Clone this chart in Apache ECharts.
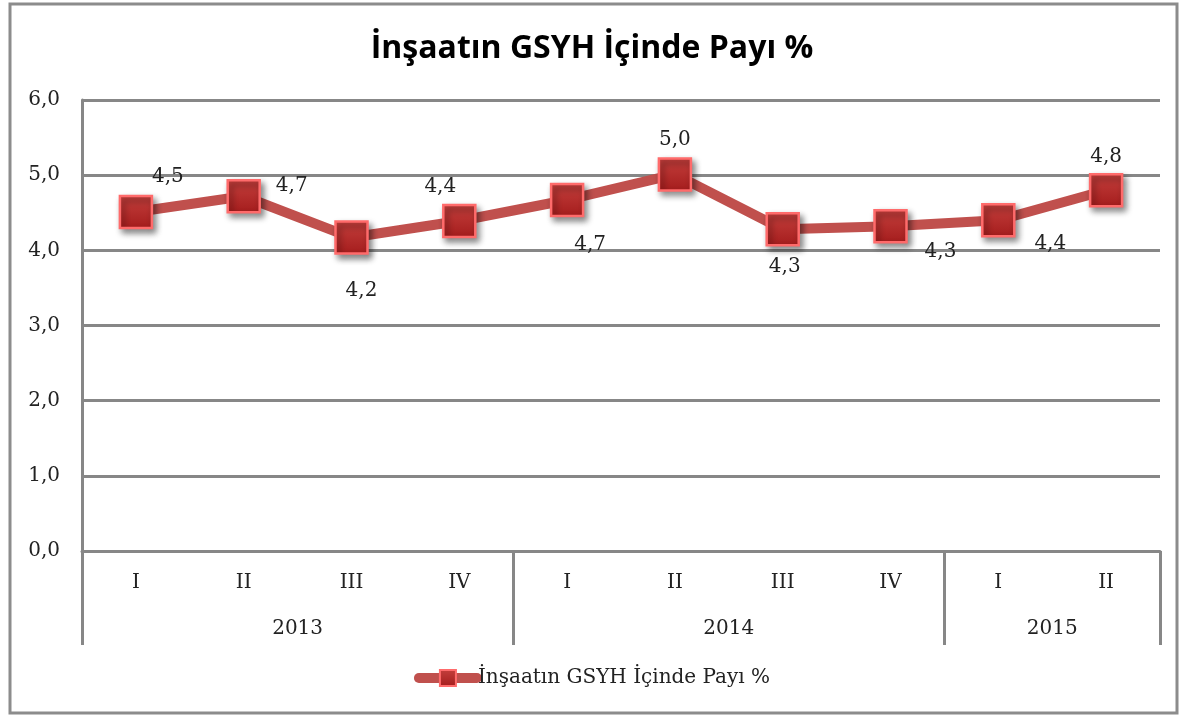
<!DOCTYPE html>
<html>
<head>
<meta charset="utf-8">
<script src="https://cdn.jsdelivr.net/npm/echarts@6/dist/echarts.min.js"></script>
<style>
html,body{margin:0;padding:0;background:#fff;}
#chart{width:1184px;height:716px;}
</style>
</head>
<body>
<div id="chart"></div>
<script>
const titleText = 'İnşaatın GSYH İçinde Payı %';
const seriesName = 'İnşaatın GSYH İçinde Payı %';
const quarters = ['I','II','III','IV','I','II','III','IV','I','II'];
const years = ['2013','2014','2015'];
const yearSpans = [4,4,2];
const values = [4.51, 4.72, 4.17, 4.39, 4.67, 5.01, 4.28, 4.32, 4.40, 4.80];
const yTicks = [0,1,2,3,4,5,6];

// label placement (style, not data)
const labelOffsets = [[32,-35],[48,-10],[10,53],[-19,-34],[23,45],[0,-35],[2,38],[50,26],[52,24],[0,-33]];

// Build year axis: boundary points (n+1), year label at span center
const yearAxisData = new Array(quarters.length + 1).fill('');
const boundaryIdx = [0];
let acc = 0;
years.forEach((y, i) => {
  const start = acc;
  acc += yearSpans[i];
  boundaryIdx.push(acc);
  const mid = (start + acc) / 2;
  if (Number.isInteger(mid)) yearAxisData[mid] = y;
});

const fmt = v => Number(v).toFixed(1).replace('.', ',');
const gray = '#878787';
const serif = 'DejaVu Serif';

const chart = echarts.init(document.getElementById('chart'), null, {renderer:'canvas'});
chart.setOption({
  animation: false,
  backgroundColor: '#fff',
  title: {
    text: titleText, left: 'center', top: 28,
    textStyle: {fontFamily: 'Open Sans', fontWeight: 'bold', fontSize: 32, color: '#000'}
  },
  legend: {
    bottom: 23, left: 'center',
    itemWidth: 58, itemHeight: 20, itemGap: 0,
    lineStyle: {width: 10, color: '#c0504d', cap: 'round'},
    textStyle: {fontFamily: serif, fontSize: 20, color: '#222', padding: [0,0,0,-4]},
    data: [seriesName]
  },
  graphic: [{
    type: 'rect', shape: {x: 10, y: 4, width: 1167, height: 709},
    style: {fill: 'none', stroke: '#8c8c8c', lineWidth: 3}, silent: true, z: 100
  }],
  grid: {left: 82, right: 24, top: 100, bottom: 165},
  xAxis: [{
    type: 'category', data: quarters, boundaryGap: true,
    axisLine: {show: true, lineStyle: {color: gray, width: 3}},
    axisTick: {show: false},
    axisLabel: {interval: 0, margin: 22, fontFamily: serif, fontSize: 20, color: '#222'}
  }, {
    type: 'category', data: yearAxisData, boundaryGap: false, position: 'bottom',
    axisLine: {show: false},
    axisTick: {show: true, length: 94, interval: (i) => boundaryIdx.indexOf(i) >= 0,
      lineStyle: {color: gray, width: 3}},
    axisLabel: {interval: 0, margin: 68, fontFamily: serif, fontSize: 20, color: '#222'}
  }],
  yAxis: {
    type: 'value', min: yTicks[0], max: yTicks[yTicks.length-1], interval: 1,
    axisLine: {show: true, lineStyle: {color: gray, width: 3}},
    axisTick: {show: false},
    splitLine: {lineStyle: {color: gray, width: 3}},
    axisLabel: {margin: 22, fontFamily: serif, fontSize: 20, color: '#222', formatter: fmt}
  },
  series: [{
    name: seriesName, type: 'line', xAxisIndex: 0,
    data: values.map((v, i) => ({
      value: v,
      label: {offset: labelOffsets[i]}
    })),
    symbol: 'rect', symbolSize: 32,
    lineStyle: {color: '#c0504d', width: 10},
    itemStyle: {
      color: {type: 'linear', x: 0, y: 0, x2: 0, y2: 1, colorStops: [
        {offset: 0, color: '#c4403d'}, {offset: 1, color: '#a41c1c'}]},
      borderColor: '#ff6b6b', borderWidth: 2.5,
      shadowColor: 'rgba(0,0,0,0.45)', shadowBlur: 6, shadowOffsetX: 3, shadowOffsetY: 4
    },
    label: {
      show: true, position: 'inside', formatter: p => fmt(p.value),
      fontFamily: serif, fontSize: 20, color: '#222'
    },
    z: 3
  }]
});
</script>
</body>
</html>
